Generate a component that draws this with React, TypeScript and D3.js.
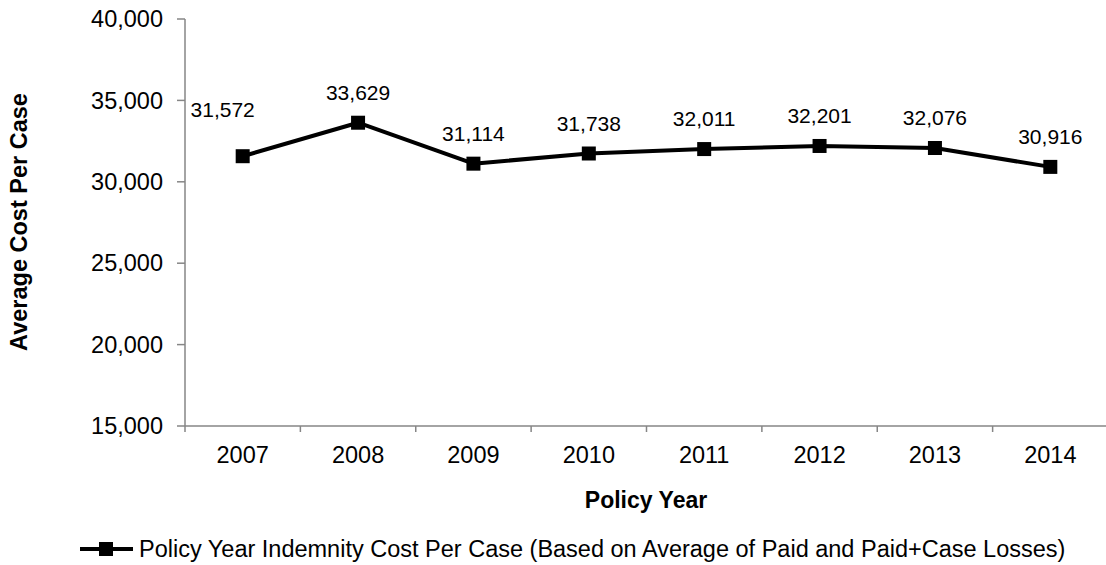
import React from "react";
import * as d3 from "d3";

const years = ["2007", "2008", "2009", "2010", "2011", "2012", "2013", "2014"];
const costPerCase = [31572, 33629, 31114, 31738, 32011, 32201, 32076, 30916];
const yTicks = [15000, 20000, 25000, 30000, 35000, 40000];
const seriesName = "Policy Year Indemnity Cost Per Case (Based on Average of Paid and Paid+Case Losses)";
const xTitle = "Policy Year";
const yTitle = "Average Cost Per Case";

const W = 1106;
const H = 565;
const FONT = "'Liberation Sans', Arial, sans-serif";
const AXIS = "#868686";

export default function App() {
  const x = d3.scaleBand<string>().domain(years).range([185, 1108]).padding(0);
  const y = d3.scaleLinear().domain([15000, 40000]).range([426, 19]);
  const fmt = d3.format(",");
  const cx = (yr: string) => (x(yr) as number) + x.bandwidth() / 2;
  const line = d3
    .line<number>()
    .x((_, i) => cx(years[i]))
    .y((d) => y(d));
  const ms = 14;
  const boundaries = years.map((yr) => x(yr) as number).concat([x.range()[1]]);

  return (
    <svg
      width={W}
      height={H}
      style={{ position: "absolute", left: 0, top: 0, background: "#fff" }}
      fontFamily={FONT}
    >
      {/* y axis */}
      <line x1={185} x2={185} y1={y(40000)} y2={y(15000)} stroke={AXIS} strokeWidth={1.5} />
      {yTicks.map((t) => (
        <g key={t}>
          <line x1={177} x2={185} y1={y(t)} y2={y(t)} stroke={AXIS} strokeWidth={1.5} />
          <text x={163} y={y(t)} dy="0.35em" textAnchor="end" fontSize={23.5} fill="#000">
            {fmt(t)}
          </text>
        </g>
      ))}
      {/* x axis */}
      <line x1={185} x2={x.range()[1]} y1={y(15000)} y2={y(15000)} stroke={AXIS} strokeWidth={1.5} />
      {boundaries.map((b, i) => (
        <line key={i} x1={b} x2={b} y1={y(15000)} y2={y(15000) + 6} stroke={AXIS} strokeWidth={1.5} />
      ))}
      {years.map((yr) => (
        <text key={yr} x={cx(yr)} y={463} textAnchor="middle" fontSize={23.5} fill="#000">
          {yr}
        </text>
      ))}
      {/* titles */}
      <text x={646} y={508} textAnchor="middle" fontSize={23} fontWeight="bold" fill="#000">
        {xTitle}
      </text>
      <text
        transform={`translate(27,222) rotate(-90)`}
        textAnchor="middle"
        fontSize={23.5}
        fontWeight="bold"
        fill="#000"
      >
        {yTitle}
      </text>
      {/* series */}
      <path d={line(costPerCase) || ""} fill="none" stroke="#000" strokeWidth={4} strokeLinejoin="round" />
      {costPerCase.map((v, i) => (
        <rect key={i} x={cx(years[i]) - ms / 2} y={y(v) - ms / 2} width={ms} height={ms} fill="#000" />
      ))}
      {costPerCase.map((v, i) => (
        <text
          key={"l" + i}
          x={cx(years[i]) + (i === 0 ? -20 : 0)}
          y={y(v) - 23 - (i === 0 ? 16 : 0)}
          textAnchor="middle"
          fontSize={21}
          fill="#000"
        >
          {fmt(v)}
        </text>
      ))}
      {/* legend */}
      <line x1={80} x2={133} y1={549} y2={549} stroke="#000" strokeWidth={4} />
      <rect x={106 - ms / 2} y={549 - ms / 2} width={ms} height={ms} fill="#000" />
      <text x={139} y={557} fontSize={23.5} fill="#000">
        {seriesName}
      </text>
    </svg>
  );
}
